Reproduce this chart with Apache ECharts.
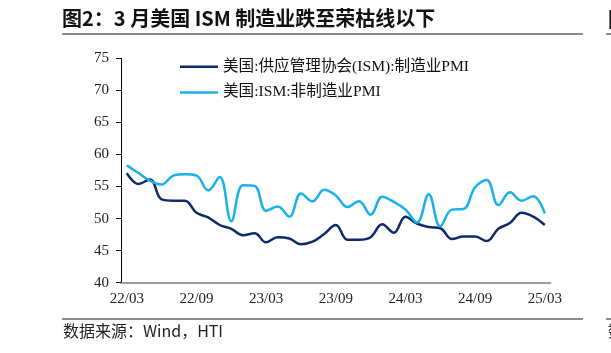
<!DOCTYPE html>
<html>
<head>
<meta charset="utf-8">
<script src="https://cdn.jsdelivr.net/npm/echarts@6/dist/echarts.min.js"></script>
<style>
  html, body { margin: 0; padding: 0; background: #fff; }
  #ism-echart { width: 611px; height: 353px; }
</style>
</head>
<body>
<div id="ism-echart"></div>
<script>
// 月份 22/03 - 25/03
var months = [
  '22/03', '22/04', '22/05', '22/06', '22/07', '22/08', '22/09', '22/10', '22/11', '22/12',
  '23/01', '23/02', '23/03', '23/04', '23/05', '23/06', '23/07', '23/08', '23/09', '23/10', '23/11', '23/12',
  '24/01', '24/02', '24/03', '24/04', '24/05', '24/06', '24/07', '24/08', '24/09', '24/10', '24/11', '24/12',
  '25/01', '25/02', '25/03'
];
// 美国:供应管理协会(ISM):制造业PMI
var mfgPmi = [
  57.1, 55.4, 56.1, 53.0, 52.8, 52.8, 50.9, 50.2, 49.0, 48.4,
  47.4, 47.7, 46.3, 47.1, 46.9, 46.0, 46.4, 47.6, 49.0, 46.7, 46.7, 47.1,
  49.1, 47.8, 50.3, 49.2, 48.7, 48.5, 46.8, 47.2, 47.2, 46.5, 48.4, 49.3,
  50.9, 50.3, 49.0
];
// 美国:ISM:非制造业PMI
var svcPmi = [
  58.3, 57.1, 55.9, 55.3, 56.7, 56.9, 56.7, 54.4, 56.5, 49.6,
  55.2, 55.1, 51.2, 51.9, 50.3, 53.9, 52.7, 54.5, 53.6, 51.8, 52.7, 50.6,
  53.4, 52.6, 51.4, 49.4, 53.8, 48.8, 51.4, 51.5, 54.9, 56.0, 52.1, 54.1,
  52.8, 53.5, 50.8
];
var seriesNames = ['美国:供应管理协会(ISM):制造业PMI', '美国:ISM:非制造业PMI'];
var seriesColors = ['#0d2b6b', '#19b0ec'];

var serif = '"Liberation Serif", "Noto Sans CJK SC", serif';
var sans = '"Noto Sans CJK SC", "Noto Sans", sans-serif';

var echartOption = {
  animation: false,
  backgroundColor: '#fff',
  title: {
    text: '图2：3 月美国 ISM 制造业跌至荣枯线以下',
    left: 62,
    top: 8,
    padding: 0,
    textStyle: {
      fontFamily: sans,
      fontWeight: 'bold',
      fontSize: 20,
      color: '#111'
    }
  },
  legend: {
    orient: 'vertical',
    left: 180,
    top: 59,
    padding: 0,
    itemGap: 10,
    itemWidth: 38,
    itemHeight: 2.5,
    icon: 'rect',
    data: seriesNames,
    textStyle: {
      fontFamily: serif,
      fontSize: 15.6,
      lineHeight: 15.6,
      color: '#111'
    }
  },
  grid: {
    left: 121,
    right: 60.4,
    top: 58.3,
    bottom: 70.3,
    containLabel: false
  },
  xAxis: {
    type: 'category',
    data: months,
    boundaryGap: true,
    axisLine: {
      lineStyle: { color: '#7f7f7f', width: 1.5 }
    },
    axisTick: {
      interval: 5,
      length: 5,
      lineStyle: { color: '#7f7f7f', width: 1.5 }
    },
    axisLabel: {
      interval: 5,
      margin: 9,
      fontFamily: serif,
      fontSize: 15,
      color: '#222'
    },
    splitLine: { show: false }
  },
  yAxis: {
    type: 'value',
    min: 40,
    max: 75,
    interval: 5,
    axisLine: {
      show: true,
      lineStyle: { color: '#000', width: 1 }
    },
    axisTick: {
      show: true,
      length: 5,
      lineStyle: { color: '#000', width: 1 }
    },
    axisLabel: {
      margin: 12,
      fontFamily: serif,
      fontSize: 15,
      color: '#222'
    },
    splitLine: { show: false }
  },
  series: [{
    name: seriesNames[0],
    type: 'line',
    data: mfgPmi,
    smooth: 0.4,
    showSymbol: false,
    symbol: 'none',
    color: seriesColors[0],
    lineStyle: { width: 2.5, color: seriesColors[0] }
  }, {
    name: seriesNames[1],
    type: 'line',
    data: svcPmi,
    smooth: 0.4,
    showSymbol: false,
    symbol: 'none',
    color: seriesColors[1],
    lineStyle: { width: 2.5, color: seriesColors[1] }
  }],
  graphic: [
    // 标题下横线
    { type: 'line', shape: { x1: 62, y1: 34, x2: 583, y2: 34 }, style: { stroke: '#8c8c8c', lineWidth: 2 } },
    // 来源上横线
    { type: 'line', shape: { x1: 62, y1: 319, x2: 583, y2: 319 }, style: { stroke: '#8c8c8c', lineWidth: 2 } },
    {
      type: 'text', left: 63, top: 323,
      style: { text: '数据来源：Wind，HTI', fontFamily: sans, fontSize: 16, fill: '#222' }
    },
    // 右侧相邻图的残边
    { type: 'line', shape: { x1: 606, y1: 34, x2: 611, y2: 34 }, style: { stroke: '#8c8c8c', lineWidth: 2 } },
    { type: 'line', shape: { x1: 606, y1: 319, x2: 611, y2: 319 }, style: { stroke: '#8c8c8c', lineWidth: 2 } },
    {
      type: 'text', x: 608, y: 9,
      style: { text: '图', fontFamily: sans, fontWeight: 'bold', fontSize: 20, fill: '#111' }
    },
    {
      type: 'text', x: 608, y: 323,
      style: { text: '数', fontFamily: sans, fontSize: 16, fill: '#222' }
    }
  ]
};

var echart = echarts.init(document.getElementById('ism-echart'));
echart.setOption(echartOption);
window.addEventListener('resize', function () {
  echart.resize();
});
</script>
</body>
</html>
